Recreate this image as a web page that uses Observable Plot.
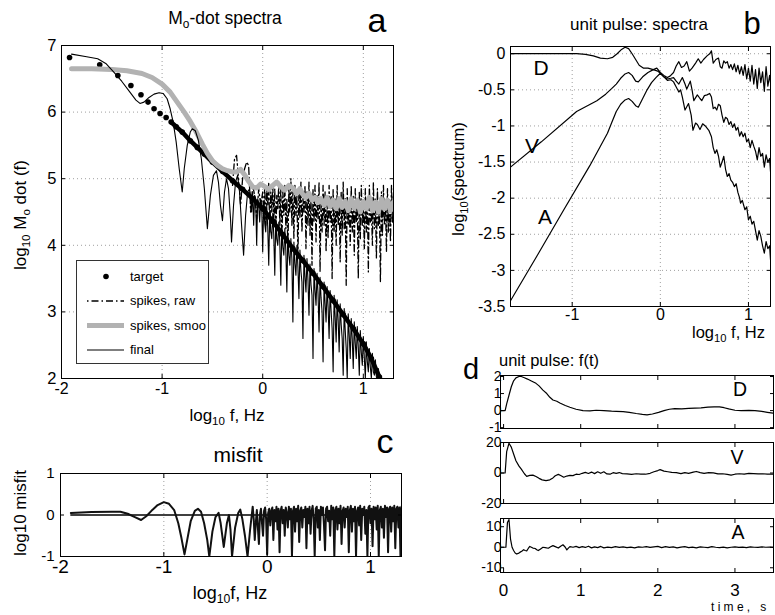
<!DOCTYPE html>
<html><head><meta charset="utf-8">
<script src="https://cdn.jsdelivr.net/npm/d3@7"></script>
<script src="https://cdn.jsdelivr.net/npm/@observablehq/plot@0.6"></script>
<style>
body{margin:0;background:#fff;}
#root{position:relative;width:775px;height:615px;overflow:hidden;font-family:"Liberation Sans",Arial,Helvetica,sans-serif;color:#000;background:#fff;}
.t{position:absolute;white-space:nowrap;line-height:1;}
sub{font-size:0.68em;vertical-align:-0.35em;line-height:0;}
#pa [aria-label^="x-axis"] text{font-size:16px;}
#pc [aria-label^="x-axis"] text{font-size:19px;}
#pc [aria-label^="y-axis"] text{font-size:15px;}
#pdA [aria-label^="x-axis"] text{font-size:17px;}
.pd [aria-label^="y-axis"] text{font-family:"Liberation Sans Narrow","Liberation Sans",Arial,sans-serif;}
</style>
</head><body><div id="root"></div>
<script>
// ---------- DATA ----------
// Panel a: Mo-dot spectra (x = log10 f, y = log10 Mo-dot)
const aTicksX = [-2, -1, 0, 1];
const aTicksY = [2, 3, 4, 5, 6, 7];
const aTarget = [[-1.92,6.82],[-1.62,6.71],[-1.44,6.55],[-1.31,6.4],[-1.21,6.26],[-1.14,6.15],[-1.08,6.05],[-1.02,5.98],[-0.96,5.92],
  [-0.91,5.85],[-0.86,5.78],[-0.8,5.7],[-0.72,5.57],[-0.65,5.47],[-0.58,5.37],[-0.5,5.25],[-0.4,5.11],[-0.3,4.97],[-0.2,4.84],[-0.1,4.7],
  [0,4.55],[0.1,4.36],[0.2,4.16],[0.3,3.95],[0.4,3.77],[0.5,3.58],[0.6,3.38],[0.7,3.17],[0.8,2.96],[0.9,2.75],[1.0,2.52],[1.08,2.3],[1.16,2.02]];
const aRaw = [[-0.3,4.9],[-0.28,5.3],[-0.26,5.35],[-0.24,5.0],[-0.22,4.6],[-0.2,5.0],[-0.18,5.15],[-0.16,5.25],[-0.14,5.2],[-0.12,4.5],
  [-0.1,4.9],[-0.08,4.75],[-0.06,4.4],[-0.04,4.85],[-0.02,4.6],
  [0,4.8],[0.01,4.4],[0.02,4.9],[0.03,4.3],[0.04,4.85],[0.05,4.6],[0.06,4.95],[0.07,4.2],[0.08,4.8],[0.09,4.5],
  [0.1,4.9],[0.11,4.35],[0.12,4.85],[0.13,4.1],[0.14,4.75],[0.15,4.55],[0.16,4.95],[0.17,4.3],[0.18,4.85],[0.19,4.0],
  [0.2,4.8],[0.21,4.45],[0.22,4.9],[0.23,4.25],[0.24,4.7],[0.25,3.9],[0.26,4.85],[0.27,4.5],[0.28,5.0],[0.29,4.3],
  [0.3,4.8],[0.31,4.1],[0.32,4.9],[0.33,4.45],[0.34,4.75],[0.35,3.8],[0.36,4.85],[0.37,4.4],[0.38,4.95],[0.39,4.2],
  [0.4,4.7],[0.41,4.5],[0.42,4.9],[0.43,3.95],[0.44,4.8],[0.45,4.3],[0.46,4.95],[0.47,4.15],[0.48,4.7],[0.49,3.7],
  [0.5,4.85],[0.51,4.35],[0.52,4.9],[0.53,4.05],[0.54,4.75],[0.55,4.4],[0.56,4.95],[0.57,3.6],[0.58,4.7],[0.59,4.2],
  [0.6,4.9],[0.61,4.3],[0.62,4.8],[0.63,3.9],[0.64,4.65],[0.65,4.1],[0.66,4.9],[0.67,4.35],[0.68,4.75],[0.69,3.5],
  [0.7,4.85],[0.71,4.2],[0.72,4.7],[0.73,4.0],[0.74,4.9],[0.75,4.3],[0.76,4.65],[0.77,3.75],[0.78,4.8],[0.79,4.15],
  [0.8,4.95],[0.81,4.25],[0.82,4.7],[0.83,3.4],[0.84,4.85],[0.85,4.3],[0.86,4.6],[0.87,4.0],[0.88,4.9],[0.89,4.2],
  [0.9,4.75],[0.91,3.85],[0.92,4.85],[0.93,4.35],[0.94,4.6],[0.95,3.5],[0.96,4.8],[0.97,4.1],[0.98,4.9],[0.99,4.3],
  [1.0,4.65],[1.01,3.95],[1.02,4.85],[1.03,4.2],[1.04,4.7],[1.05,3.6],[1.06,4.9],[1.07,4.35],[1.08,4.6],[1.09,4.0],
  [1.1,4.95],[1.11,4.25],[1.12,4.7],[1.13,3.8],[1.14,4.85],[1.15,4.3],[1.16,4.55],[1.17,3.45],[1.18,4.8],[1.19,4.15],
  [1.2,4.9],[1.21,4.3],[1.22,4.65],[1.23,3.9],[1.24,4.85],[1.25,4.2],[1.26,4.7],[1.27,4.05],[1.28,4.9],[1.29,4.35],[1.3,4.75]];
const aSmoo = [[-1.9,6.65],[-1.7,6.65],[-1.5,6.64],[-1.35,6.62],[-1.2,6.58],[-1.1,6.52],[-1.0,6.42],[-0.92,6.3],[-0.85,6.15],[-0.78,6.0],
  [-0.72,5.86],[-0.66,5.7],[-0.6,5.52],[-0.55,5.38],[-0.5,5.27],[-0.45,5.2],[-0.4,5.15],[-0.35,5.12],[-0.3,5.1],[-0.26,5.1],[-0.22,5.14],
  [-0.18,5.06],[-0.14,4.96],[-0.1,4.88],[-0.06,4.86],[-0.02,4.92],[0.02,4.88],[0.06,4.84],[0.1,4.9],[0.14,4.95],[0.18,4.88],[0.22,4.83],
  [0.26,4.9],[0.3,4.86],[0.34,4.78],[0.37,4.85],[0.4,4.76],[0.43,4.72],[0.46,4.78],[0.49,4.68],[0.52,4.72],[0.55,4.64],[0.58,4.7],
  [0.61,4.6],[0.64,4.72],[0.67,4.58],[0.7,4.68],[0.73,4.55],[0.76,4.7],[0.79,4.57],[0.82,4.66],[0.85,4.52],[0.88,4.7],[0.91,4.56],
  [0.94,4.68],[0.97,4.5],[1.0,4.66],[1.03,4.55],[1.06,4.72],[1.09,4.52],[1.12,4.65],[1.15,4.5],[1.18,4.7],[1.21,4.55],[1.24,4.68],
  [1.27,4.52],[1.3,4.65]];
const aFinal = [[-1.9,6.87],[-1.75,6.83],[-1.64,6.8],[-1.56,6.73],[-1.48,6.6],[-1.4,6.46],[-1.32,6.3],[-1.26,6.18],[-1.22,6.13],[-1.18,6.15],
  [-1.13,6.22],[-1.08,6.27],[-1.03,6.29],[-0.99,6.28],[-0.95,6.2],[-0.92,6.05],[-0.89,5.85],[-0.86,5.55],[-0.83,5.15],[-0.8,4.8],
  [-0.78,5.15],[-0.75,5.5],[-0.72,5.7],[-0.7,5.75],[-0.67,5.72],[-0.64,5.58],[-0.61,5.3],[-0.58,4.85],[-0.55,4.25],[-0.52,4.75],
  [-0.49,5.05],[-0.46,5.12],[-0.44,4.95],[-0.42,4.6],[-0.4,4.37],[-0.38,4.8],[-0.36,5.0],[-0.34,4.85],[-0.32,4.4],[-0.31,4.05],
  [-0.29,4.6],[-0.27,4.95],[-0.25,5.05],[-0.23,4.8],[-0.21,4.3],[-0.19,3.85],[-0.17,4.45],[-0.15,4.8],[-0.13,4.85],[-0.11,4.5],
  [-0.1,4.8],[-0.09,4.3],[-0.08,4.75],[-0.07,4.7],[-0.06,4.0],[-0.05,4.7],[-0.04,4.6],[-0.03,4.35],[-0.02,4.7],[-0.01,4.6],
  [0,3.9],[0.01,4.65],[0.02,4.33],[0.03,4.2],[0.04,4.6],[0.05,4.27],[0.06,3.7],[0.07,4.52],[0.08,4.21],[0.09,4.1],
  [0.1,4.48],[0.11,4.15],[0.12,3.55],[0.13,4.4],[0.14,4.09],[0.15,4.0],[0.16,4.35],[0.17,4.03],[0.18,3.4],[0.19,4.3],
  [0.2,3.97],[0.21,3.85],[0.22,4.25],[0.23,3.91],[0.24,3.3],[0.25,4.17],[0.26,3.85],[0.27,3.7],[0.28,4.1],[0.29,3.79],
  [0.3,2.85],[0.31,4.05],[0.32,3.73],[0.33,3.55],[0.34,4.0],[0.35,3.67],[0.36,3.2],[0.37,3.93],[0.38,3.61],[0.39,3.45],
  [0.4,2.6],[0.41,3.85],[0.42,3.53],[0.43,3.3],[0.44,3.8],[0.45,3.47],[0.46,2.95],[0.47,3.72],[0.48,3.41],[0.49,3.25],
  [0.5,2.3],[0.51,3.65],[0.52,3.33],[0.53,3.1],[0.54,3.58],[0.55,3.27],[0.56,2.7],[0.57,3.52],[0.58,3.21],[0.59,3.0],
  [0.6,2.25],[0.61,3.45],[0.62,3.13],[0.63,2.85],[0.64,3.38],[0.65,3.07],[0.66,2.6],[0.67,3.32],[0.68,3.01],[0.69,2.75],
  [0.7,2.1],[0.71,3.25],[0.72,2.93],[0.73,2.55],[0.74,3.18],[0.75,2.87],[0.76,2.4],[0.77,3.12],[0.78,2.81],[0.79,2.6],
  [0.8,2.05],[0.81,3.05],[0.82,2.73],[0.83,2.45],[0.84,2.0],[0.85,2.97],[0.86,2.65],[0.87,2.3],[0.88,2.9],[0.89,2.59],
  [0.9,2.15],[0.91,2.85],[0.92,2.53],[0.93,2.3],[0.94,2.78],[0.95,2.47],[0.96,2.05],[0.97,2.72],[0.98,2.39],[0.99,2.2],
  [1.0,2.63],[1.01,2.31],[1.02,2.0],[1.03,2.55],[1.04,2.25],[1.05,2.1],[1.06,2.45],[1.07,2.17],[1.08,2.0],[1.09,2.38],
  [1.1,2.1],[1.11,2.05],[1.12,2.28],[1.13,2.02],[1.14,2.0],[1.15,2.15],[1.16,2.0],[1.17,2.05]];
const legendLabels = ["target", "spikes, raw", "spikes, smoo", "final"];

// Panel c: misfit
const cTicksX = [-2, -1, 0, 1];
const cTicksY = [-1, 0, 1];
const cZero = [{y: 0, x1: -1.9, x2: 1.3}];
const cMisfit = [[-1.9,0.05],[-1.7,0.07],[-1.5,0.08],[-1.42,0.08],[-1.35,0.03],[-1.28,-0.05],[-1.22,-0.12],[-1.17,-0.03],[-1.12,0.1],
  [-1.06,0.24],[-1.0,0.31],[-0.95,0.27],[-0.9,0.12],[-0.86,-0.2],[-0.83,-0.55],[-0.8,-0.95],[-0.77,-0.55],[-0.74,-0.15],[-0.7,0.1],
  [-0.67,0.15],[-0.64,0.08],[-0.61,-0.2],[-0.58,-0.6],[-0.56,-1.0],[-0.53,-0.4],[-0.5,-0.05],[-0.47,0.05],[-0.45,-0.2],[-0.42,-0.77],
  [-0.39,-0.2],[-0.37,0.0],[-0.355,-0.35],[-0.34,-1.0],[-0.31,-0.3],[-0.28,0.05],[-0.26,0.13],[-0.24,-0.1],[-0.215,-0.5],[-0.19,-1.0],
  [-0.165,-0.35],[-0.14,0.2],[-0.13,-0.1],[-0.12,-0.6],[-0.11,-0.2],
  [-0.1,0.12],[-0.09,-0.3],[-0.08,-0.7],[-0.07,0.0],[-0.06,0.15],[-0.05,-0.2],[-0.04,-0.5],[-0.03,0.1],[-0.02,0.18],[-0.01,-0.1],
  [0,-0.95],[0.01,0.05],[0.02,0.15],[0.03,-0.25],[0.04,0.1],[0.05,0.18],[0.06,-0.6],[0.07,0.12],[0.08,-0.15],[0.09,0.2],
  [0.1,-0.35],[0.11,0.15],[0.12,-0.9],[0.13,0.1],[0.14,0.2],[0.15,-0.2],[0.16,0.12],[0.17,-0.5],[0.18,0.18],[0.19,0.05],
  [0.2,-0.3],[0.21,0.2],[0.22,-0.1],[0.23,0.15],[0.24,-1.0],[0.25,0.1],[0.26,0.2],[0.27,-0.4],[0.28,0.15],[0.29,-0.15],
  [0.3,0.22],[0.31,-0.65],[0.32,0.1],[0.33,0.18],[0.34,-0.3],[0.35,0.12],[0.36,-0.05],[0.37,0.2],[0.38,-0.8],[0.39,0.15],
  [0.4,-0.2],[0.41,0.2],[0.42,-0.45],[0.43,0.1],[0.44,0.22],[0.45,-0.1],[0.46,-1.0],[0.47,0.15],[0.48,0.2],[0.49,-0.3],
  [0.5,0.12],[0.51,-0.6],[0.52,0.2],[0.53,0.0],[0.54,0.18],[0.55,-0.25],[0.56,-0.85],[0.57,0.15],[0.58,0.2],[0.59,-0.15],
  [0.6,0.1],[0.61,-0.5],[0.62,0.22],[0.63,-0.1],[0.64,0.18],[0.65,-1.0],[0.66,0.12],[0.67,0.2],[0.68,-0.35],[0.69,0.15],
  [0.7,-0.2],[0.71,0.22],[0.72,-0.7],[0.73,0.1],[0.74,0.18],[0.75,-0.3],[0.76,0.15],[0.77,-0.05],[0.78,0.2],[0.79,-0.9],
  [0.8,0.12],[0.81,0.22],[0.82,-0.4],[0.83,0.15],[0.84,-0.15],[0.85,0.2],[0.86,-1.0],[0.87,0.1],[0.88,0.18],[0.89,-0.25],
  [0.9,0.22],[0.91,-0.6],[0.92,0.15],[0.93,0.0],[0.94,0.2],[0.95,-0.45],[0.96,0.12],[0.97,-1.0],[0.98,0.18],[0.99,0.22],
  [1.0,-0.2],[1.01,0.15],[1.02,-0.75],[1.03,0.2],[1.04,-0.1],[1.05,0.18],[1.06,-0.35],[1.07,0.22],[1.08,-1.0],[1.09,0.12],
  [1.1,0.2],[1.11,-0.3],[1.12,0.15],[1.13,-0.55],[1.14,0.22],[1.15,-0.05],[1.16,0.18],[1.17,-0.9],[1.18,0.15],[1.19,0.2],
  [1.2,-0.4],[1.21,0.18],[1.22,-0.15],[1.23,0.22],[1.24,-0.8],[1.25,0.15],[1.26,0.2],[1.27,-0.3],[1.28,0.18],[1.29,-1.0],[1.3,0.2]];

// Panel b: unit pulse spectra
const bTicksX = [-1, 0, 1];
const bTicksY = [0, -0.5, -1, -1.5, -2, -2.5, -3, -3.5];
const bD = [[-1.7,0],[-1.2,0],[-0.95,0],[-0.85,-0.01],[-0.76,-0.03],[-0.68,-0.06],[-0.6,-0.07],[-0.54,-0.05],[-0.49,0.0],[-0.44,0.06],
  [-0.4,0.09],[-0.36,0.07],[-0.32,0.0],[-0.28,-0.08],[-0.24,-0.16],[-0.19,-0.2],[-0.14,-0.2],[-0.08,-0.22],[-0.04,-0.2],[0,-0.26],
  [0.04,-0.3],[0.08,-0.33],[0.11,-0.31],[0.15,-0.26],[0.18,-0.17],[0.21,-0.11],[0.24,-0.19],[0.27,-0.17],[0.3,-0.11],[0.33,-0.24],
  [0.36,-0.2],[0.4,-0.13],[0.43,-0.07],[0.46,-0.13],[0.49,-0.08],[0.53,-0.03],[0.56,0.0],[0.58,0.04],[0.6,-0.13],[0.63,-0.08],
  [0.66,-0.06],[0.68,-0.18],[0.7,-0.2],[0.72,-0.1],[0.74,-0.13],[0.76,-0.11],[0.78,-0.2],[0.8,-0.15],[0.82,-0.22],[0.84,-0.14],
  [0.86,-0.25],[0.88,-0.16],[0.9,-0.28],[0.92,-0.18],[0.94,-0.3],[0.96,-0.15],[0.98,-0.35],[1.0,-0.2],[1.02,-0.38],[1.04,-0.16],
  [1.06,-0.42],[1.08,-0.22],[1.1,-0.48],[1.12,-0.2],[1.14,-0.4],[1.16,-0.25],[1.18,-0.52],[1.2,-0.18],[1.22,-0.45],[1.24,-0.3],[1.25,-0.4]];
const bV = [[-1.7,-1.57],[-1.35,-1.22],[-0.95,-0.8],[-0.72,-0.65],[-0.62,-0.56],[-0.55,-0.48],[-0.5,-0.42],[-0.45,-0.34],[-0.4,-0.28],
  [-0.36,-0.26],[-0.32,-0.3],[-0.28,-0.38],[-0.25,-0.39],[-0.2,-0.32],[-0.14,-0.26],[-0.08,-0.22],[-0.03,-0.24],[0,-0.27],[0.04,-0.32],
  [0.08,-0.35],[0.12,-0.34],[0.15,-0.33],[0.18,-0.38],[0.21,-0.42],[0.25,-0.33],[0.28,-0.42],[0.3,-0.49],[0.34,-0.38],[0.36,-0.5],
  [0.38,-0.65],[0.42,-0.57],[0.45,-0.62],[0.47,-0.65],[0.5,-0.58],[0.53,-0.57],[0.56,-0.55],[0.58,-0.6],[0.6,-0.76],[0.62,-0.74],
  [0.64,-0.78],[0.66,-0.7],[0.68,-0.72],[0.7,-0.85],[0.72,-0.95],[0.74,-0.88],[0.76,-0.9],[0.78,-0.98],[0.8,-0.94],[0.82,-1.02],
  [0.84,-0.97],[0.86,-1.06],[0.88,-1.02],[0.9,-1.14],[0.92,-1.08],[0.94,-1.15],[0.96,-1.1],[0.98,-1.22],[1.0,-1.18],[1.02,-1.3],
  [1.04,-1.2],[1.06,-1.28],[1.08,-1.35],[1.1,-1.47],[1.12,-1.3],[1.14,-1.42],[1.16,-1.38],[1.18,-1.57],[1.2,-1.4],[1.22,-1.5],
  [1.24,-1.45],[1.25,-1.63]];
const bA = [[-1.7,-3.42],[-1.4,-2.8],[-1.1,-2.17],[-0.8,-1.55],[-0.68,-1.28],[-0.6,-1.1],[-0.55,-0.95],[-0.5,-0.8],[-0.45,-0.7],
  [-0.4,-0.64],[-0.36,-0.62],[-0.32,-0.66],[-0.28,-0.72],[-0.25,-0.74],[-0.2,-0.62],[-0.15,-0.5],[-0.1,-0.4],[-0.05,-0.33],[0,-0.27],
  [0.04,-0.32],[0.08,-0.37],[0.12,-0.36],[0.15,-0.39],[0.18,-0.46],[0.21,-0.53],[0.23,-0.5],[0.25,-0.6],[0.28,-0.78],[0.32,-0.69],
  [0.35,-0.85],[0.37,-1.06],[0.4,-0.96],[0.42,-0.98],[0.45,-1.05],[0.48,-0.97],[0.51,-1.0],[0.55,-1.06],[0.58,-1.15],[0.6,-1.3],
  [0.62,-1.38],[0.64,-1.33],[0.66,-1.42],[0.68,-1.57],[0.7,-1.5],[0.72,-1.42],[0.74,-1.6],[0.76,-1.7],[0.78,-1.66],[0.8,-1.75],
  [0.82,-1.78],[0.84,-1.84],[0.86,-1.8],[0.88,-1.92],[0.9,-2.0],[0.91,-2.07],[0.93,-2.03],[0.96,-2.16],[0.98,-2.12],[1.0,-2.3],
  [1.02,-2.25],[1.04,-2.36],[1.06,-2.32],[1.08,-2.45],[1.1,-2.58],[1.12,-2.45],[1.14,-2.53],[1.16,-2.66],[1.18,-2.76],[1.2,-2.6],
  [1.22,-2.7],[1.24,-2.66],[1.25,-2.85]];
const bLabels = ["D", "V", "A"];

// Panel d: unit pulse f(t)
const dTicksX = [0, 1, 2, 3];
const dTicksYD = [-1, 0, 1, 2];
const dTicksYV = [-20, 0, 20];
const dTicksYA = [-10, 0, 10];
const dD = [[-0.04,0],[0.02,0],[0.04,0.4],[0.07,0.9],[0.1,1.4],[0.13,1.75],[0.16,1.92],[0.2,2.0],[0.23,2.0],[0.27,1.93],[0.31,1.85],
  [0.36,1.74],[0.42,1.6],[0.46,1.45],[0.51,1.2],[0.56,1.0],[0.6,0.78],[0.64,0.62],[0.69,0.55],[0.73,0.45],[0.8,0.3],[0.86,0.2],
  [0.94,0.08],[1.03,0.0],[1.12,-0.02],[1.2,0.02],[1.3,0.0],[1.4,-0.03],[1.46,-0.04],[1.55,-0.06],[1.63,-0.1],[1.72,-0.17],[1.8,-0.22],
  [1.86,-0.25],[1.93,-0.2],[2.01,-0.1],[2.08,0.0],[2.15,0.08],[2.22,0.12],[2.31,0.1],[2.4,0.13],[2.48,0.15],[2.56,0.16],[2.65,0.2],
  [2.73,0.22],[2.8,0.22],[2.86,0.17],[2.92,0.1],[3.0,0.02],[3.08,0.0],[3.18,0.01],[3.26,0.0],[3.35,-0.05],[3.42,-0.1],[3.5,-0.15]];
const dV = [[-0.04,0],[0.02,0],[0.04,14],[0.07,19.5],[0.1,17],[0.13,12.5],[0.16,8],[0.2,4.5],[0.23,2.5],[0.27,-0.5],[0.3,-2.2],
  [0.34,-1.6],[0.38,-1.4],[0.42,-2.3],[0.46,-3.5],[0.5,-4.5],[0.55,-5],[0.6,-4.5],[0.64,-3.2],[0.67,-1.8],[0.71,-0.9],[0.74,-1.6],
  [0.78,-2.8],[0.82,-2.0],[0.86,-1.6],[0.9,-1.7],[0.94,-0.8],[0.98,-1.0],[1.02,-0.2],[1.06,0.4],[1.1,-0.3],[1.14,0.6],[1.18,-0.4],
  [1.22,0.8],[1.26,-0.2],[1.3,0.8],[1.34,-0.6],[1.38,-0.8],[1.42,0.2],[1.46,-0.2],[1.5,0.3],[1.54,-0.4],[1.6,-0.6],[1.66,-0.9],
  [1.72,-0.5],[1.78,-0.7],[1.84,-0.8],[1.9,-0.2],[1.95,0.8],[2.0,1.6],[2.03,2.2],[2.08,1.2],[2.13,0.8],[2.18,0.4],[2.24,0.2],
  [2.3,-0.4],[2.35,0.2],[2.4,-0.2],[2.46,0.6],[2.5,1.0],[2.55,0.2],[2.6,-0.3],[2.66,0.3],[2.72,0.1],[2.78,-0.6],[2.84,-0.5],
  [2.9,-0.9],[2.95,-1.4],[3.0,-0.8],[3.06,-0.5],[3.12,-0.7],[3.18,-0.3],[3.24,-0.4],[3.3,-0.6],[3.36,-0.5],[3.42,-0.7],[3.5,-0.8]];
const dA = [[-0.04,0],[0.03,0],[0.05,12],[0.07,13.5],[0.09,4],[0.11,0],[0.13,-1.6],[0.15,-2.8],[0.17,-3.3],[0.19,-3.0],[0.21,-2.5],
  [0.24,-1.8],[0.26,-1.2],[0.28,-1.6],[0.3,-1.8],[0.32,-0.6],[0.34,0.4],[0.36,0.0],[0.38,-0.4],[0.41,-0.6],[0.43,-1.2],[0.45,-1.6],
  [0.48,-0.8],[0.51,0.0],[0.54,-0.2],[0.58,-0.5],[0.61,0.2],[0.64,0.8],[0.67,0.3],[0.71,-0.4],[0.74,0.5],[0.77,1.2],[0.8,0.0],
  [0.82,-1.3],[0.84,-0.4],[0.86,0.3],[0.9,0.0],[0.94,0.4],[0.98,-0.2],[1.02,0.3],[1.06,-0.1],[1.1,0.5],[1.14,-0.3],[1.18,0.2],
  [1.22,-0.2],[1.26,0.4],[1.3,-0.3],[1.35,0.1],[1.4,-0.2],[1.45,0.3],[1.5,-0.1],[1.55,0.2],[1.6,-0.2],[1.65,0.1],[1.7,-0.3],
  [1.75,0.2],[1.8,0.0],[1.85,0.3],[1.9,-0.1],[1.95,0.2],[2.0,0.4],[2.05,-0.2],[2.1,0.3],[2.15,-0.1],[2.2,0.2],[2.25,-0.3],
  [2.3,0.1],[2.35,0.3],[2.4,-0.2],[2.45,0.1],[2.5,-0.3],[2.55,0.2],[2.6,0.0],[2.65,-0.2],[2.7,0.3],[2.75,0.0],[2.8,-0.2],
  [2.85,0.1],[2.9,-0.3],[2.95,0.0],[3.0,0.2],[3.05,-0.1],[3.1,0.1],[3.15,-0.2],[3.2,0.2],[3.25,0.0],[3.3,-0.1],[3.35,0.2],
  [3.4,0.0],[3.45,0.1],[3.5,-0.1]];

// ---------- RENDER ----------
const FONT = '"Liberation Sans", Arial, Helvetica, sans-serif';
const root = document.getElementById("root");
const X = d => d[0], Y = d => d[1];
const fmt = d => String(d);
const none = () => "";
const grid = {stroke: "#888", strokeWidth: 0.8, strokeDasharray: "1,3"};
const hasAxisMarks = typeof Plot.axisX === "function";

function mkPlot(id, c) {
  const mL = c.mL ?? 50, mR = c.mR ?? 8, mT = c.mT ?? 8, mB = c.mB ?? 32;
  const axes = hasAxisMarks ? [
    Plot.axisX({anchor: "bottom", ticks: c.xt, tickFormat: c.xf ?? fmt, tickSize: -4, tickPadding: c.px, label: null}),
    Plot.axisX({anchor: "top", ticks: c.xt, tickFormat: none, tickSize: -4, label: null}),
    Plot.axisY({anchor: "left", ticks: c.yt, tickFormat: c.yf ?? fmt, tickSize: -4, tickPadding: c.py, label: null}),
    Plot.axisY({anchor: "right", ticks: c.yt, tickFormat: none, tickSize: -4, label: null})
  ] : [];
  const p = Plot.plot({
    width: c.fr - c.fl + mL + mR,
    height: c.fb - c.ft + mT + mB,
    marginLeft: mL, marginRight: mR, marginTop: mT, marginBottom: mB,
    style: {fontFamily: FONT, fontSize: c.fs + "px", background: "none", color: "#000", overflow: "visible"},
    x: {domain: c.xd, ticks: c.xt, tickFormat: c.xf ?? fmt, tickSize: -4, tickPadding: c.px, label: null},
    y: {domain: c.yd, ticks: c.yt, tickFormat: c.yf ?? fmt, tickSize: -4, tickPadding: c.py, label: null},
    marks: [...c.marks, ...axes, Plot.frame({stroke: "#000", strokeWidth: 1})]
  });
  p.id = id;
  if (c.cls) p.classList.add(c.cls);
  p.style.position = "absolute";
  p.style.left = (c.fl - mL) + "px";
  p.style.top = (c.ft - mT) + "px";
  p.style.maxWidth = "none";
  root.appendChild(p);
}

function txt(html, x, base, size, anchor = "start", extra = "") {
  const d = document.createElement("div");
  d.className = "t";
  d.innerHTML = html;
  d.style.fontSize = size + "px";
  d.style.left = x + "px";
  d.style.top = (base - 0.8465 * size) + "px";
  const tx = anchor === "middle" ? "-50%" : anchor === "end" ? "-100%" : "0";
  d.style.transform = `translateX(${tx})`;
  if (extra) d.style.cssText += extra;
  root.appendChild(d);
}
function vtxt(html, cx, cy, size) {
  const d = document.createElement("div");
  d.className = "t";
  d.innerHTML = html;
  d.style.fontSize = size + "px";
  d.style.left = cx + "px";
  d.style.top = cy + "px";
  d.style.transform = "translate(-50%,-50%) rotate(-90deg)";
  root.appendChild(d);
}

// Panel a
mkPlot("pa", {
  fl: 61, fr: 393, ft: 45, fb: 378, xd: [-2, 1.3], yd: [2, 7], xt: aTicksX, yt: aTicksY, fs: 16.5, px: 8, py: 9,
  marks: [
    Plot.ruleX([-1, 0, 1], grid),
    Plot.ruleY([3, 4, 5, 6], grid),
    Plot.line(aTarget.filter(d => d[0] > -0.95), {x: X, y: Y, stroke: "#000", strokeWidth: 4.5, clip: true}),
    Plot.dot(aTarget, {x: X, y: Y, r: 2.8, fill: "#000", stroke: "none", clip: true}),
    Plot.line(aRaw, {x: X, y: Y, stroke: "#000", strokeWidth: 1.3, strokeDasharray: "7,3,1.5,3", clip: true}),
    Plot.line(aSmoo, {x: X, y: Y, stroke: "#b2b2b2", strokeWidth: 5, clip: true}),
    Plot.line(aFinal, {x: X, y: Y, stroke: "#000", strokeWidth: 1.1, clip: true})
  ]
});

// Panel c
mkPlot("pc", {
  fl: 60, fr: 401, ft: 473, fb: 556, xd: [-2, 1.3], yd: [-1, 1], xt: cTicksX, yt: cTicksY, fs: 16, px: 7, py: 10,
  marks: [
    Plot.ruleX([-1, 0, 1], grid),
    Plot.ruleY(cZero, {y: "y", x1: "x1", x2: "x2", stroke: "#000", strokeWidth: 1.3}),
    Plot.line(cMisfit, {x: X, y: Y, stroke: "#111", strokeWidth: 2, clip: true})
  ]
});

// Panel b
mkPlot("pb", {
  fl: 510, fr: 770, ft: 46, fb: 306, xd: [-1.7, 1.25], yd: [-3.5, 0.1], xt: bTicksX, yt: bTicksY, fs: 16, px: 6, py: 9,
  mR: 4,
  marks: [
    Plot.ruleX([-1, 0, 1], grid),
    Plot.ruleY([0, -0.5, -1, -1.5, -2, -2.5, -3], grid),
    Plot.line(bD, {x: X, y: Y, stroke: "#000", strokeWidth: 1.2, clip: true}),
    Plot.line(bV, {x: X, y: Y, stroke: "#000", strokeWidth: 1.2, clip: true}),
    Plot.line(bA, {x: X, y: Y, stroke: "#000", strokeWidth: 1.2, clip: true})
  ]
});

// Panel d (three stacked)
const dCommon = {fl: 500, fr: 773, xd: [-0.04, 3.5], xt: dTicksX, fs: 14, py: 3, mL: 40, mR: 2, cls: "pd"};
mkPlot("pdD", {...dCommon, ft: 375, fb: 428, yd: [-1.05, 2.06], yt: dTicksYD, xf: none, px: 4, mB: 4,
  marks: [Plot.line(dD, {x: X, y: Y, stroke: "#000", strokeWidth: 1.2, clip: true})]});
mkPlot("pdV", {...dCommon, ft: 442, fb: 503, yd: [-20, 20], yt: dTicksYV, xf: none, px: 4, mB: 4,
  marks: [Plot.line(dV, {x: X, y: Y, stroke: "#000", strokeWidth: 1.2, clip: true})]});
mkPlot("pdA", {...dCommon, ft: 518, fb: 572, yd: [-12.3, 14], yt: dTicksYA, px: 15, mB: 40,
  marks: [Plot.line(dA, {x: X, y: Y, stroke: "#000", strokeWidth: 1.2, clip: true})]});

// ---------- TEXT ----------
// Panel a
txt("M<sub>o</sub>-dot spectra", 225, 25, 17.5, "middle");
txt("a", 377, 32, 34, "middle");
vtxt("log<sub>10</sub> M<sub>o</sub> dot (f)", 20, 215, 17);
txt("log<sub>10</sub> f, Hz", 227, 421, 17, "middle");
// Panel c
txt("misfit", 238, 462, 21, "middle");
txt("c", 385, 453, 34, "middle");
vtxt("log10 misfit", 20, 513, 17);
txt("log<sub>10</sub>f, Hz", 230, 599, 18, "middle");
// Panel b
txt("unit pulse: spectra", 639, 30, 17, "middle");
txt("b", 752, 34, 31, "middle");
vtxt("log<sub>10</sub>(spectrum)", 458, 179, 16.5);
txt("log<sub>10</sub> f, Hz", 765, 338, 16.5, "end");
txt(bLabels[0], 541, 75, 21, "middle");
txt(bLabels[1], 532, 153, 21, "middle");
txt(bLabels[2], 545, 224, 21, "middle");
// Panel d
txt("d", 471, 380, 29, "middle");
txt("unit pulse: f(t)", 499, 366, 16.5, "start");
txt("D", 740, 397, 19.5, "middle");
txt("V", 737, 465, 19.5, "middle");
txt("A", 738, 540, 19.5, "middle");
txt("time, s", 711, 611, 12, "start", "letter-spacing:3.3px;");

// ---------- LEGEND (panel a) ----------
const lg = document.createElement("div");
lg.style.cssText = "position:absolute;left:76px;top:260px;width:133px;height:104px;border:1px solid #333;background:#fff;box-sizing:border-box;";
root.appendChild(lg);
const NS = "http://www.w3.org/2000/svg";
const lsvg = document.createElementNS(NS, "svg");
lsvg.setAttribute("width", 133); lsvg.setAttribute("height", 104);
lsvg.style.cssText = "position:absolute;left:-1px;top:-1px;";
lg.appendChild(lsvg);
const rowsBase = [21, 45.5, 70, 94.5];
const sampleStyles = [
  {dot: true},
  {stroke: "#000", w: 1.3, dash: "1.5,3,7,3"},
  {stroke: "#b2b2b2", w: 5},
  {stroke: "#000", w: 1.1}
];
legendLabels.forEach((lab, i) => {
  const cy = rowsBase[i] - 4.5;
  const s = sampleStyles[i];
  if (s.dot) {
    const c = document.createElementNS(NS, "circle");
    c.setAttribute("cx", 30); c.setAttribute("cy", cy); c.setAttribute("r", 2.8); c.setAttribute("fill", "#000");
    lsvg.appendChild(c);
  } else {
    const l = document.createElementNS(NS, "line");
    l.setAttribute("x1", 11); l.setAttribute("x2", 48); l.setAttribute("y1", cy); l.setAttribute("y2", cy);
    l.setAttribute("stroke", s.stroke); l.setAttribute("stroke-width", s.w);
    if (s.dash) l.setAttribute("stroke-dasharray", s.dash);
    lsvg.appendChild(l);
  }
  const t = document.createElement("div");
  t.className = "t";
  t.textContent = lab;
  t.style.fontSize = "13px";
  t.style.left = "53px";
  t.style.top = (rowsBase[i] - 1 - 0.8465 * 13) + "px";
  lg.appendChild(t);
});
</script>
</body></html>
